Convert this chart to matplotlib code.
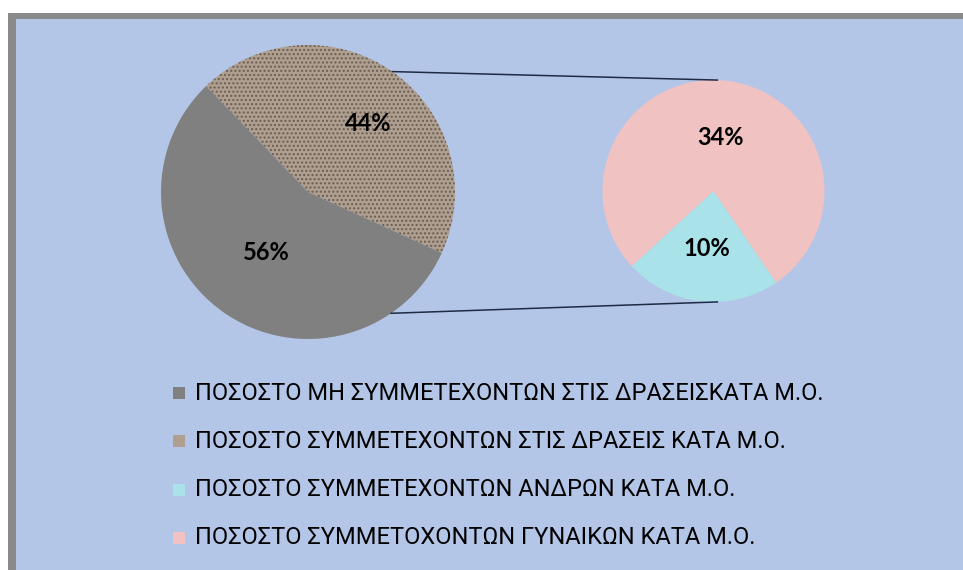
import numpy as np
import matplotlib
matplotlib.use("Agg")
import matplotlib.pyplot as plt
from matplotlib.patches import Rectangle

# ---- data ----
main_labels = ["ΠΟΣΟΣΤΟ ΜΗ ΣΥΜΜΕΤΕΧΟΝΤΩΝ ΣΤΙΣ ΔΡΑΣΕΙΣΚΑΤΑ Μ.Ο.",
               "ΠΟΣΟΣΤΟ ΣΥΜΜΕΤΕΧΟΝΤΩΝ ΣΤΙΣ ΔΡΑΣΕΙΣ ΚΑΤΑ Μ.Ο."]
main_values = [56, 44]
sub_labels = ["ΠΟΣΟΣΤΟ ΣΥΜΜΕΤΕΧΟΝΤΩΝ ΑΝΔΡΩΝ ΚΑΤΑ Μ.Ο.",
              "ΠΟΣΟΣΤΟ ΣΥΜΜΕΤΟΧΟΝΤΩΝ ΓΥΝΑΙΚΩΝ ΚΑΤΑ Μ.Ο."]
sub_values = [10, 34]

# ---- style ----
W, H = 963, 570
bg_blue = "#b4c6e7"
frame_grey = "#8a8a8a"
c_grey = "#808080"
c_tex = "#ae9f90"
c_tex_hatch = "#6b5d50"
c_cyan = "#a9e2e8"
c_pink = "#f1c2c2"

plt.rcParams["hatch.linewidth"] = 1.0

fig = plt.figure(figsize=(W / 100, H / 100), dpi=100)
fig.patch.set_facecolor("white")
ax = fig.add_axes([0, 0, 1, 1])

# frame and background
ax.add_patch(Rectangle((8, 0), W - 8, H - 13, facecolor=frame_grey, edgecolor="none", zorder=0))
ax.add_patch(Rectangle((16, 0), W - 16, H - 19, facecolor=bg_blue, edgecolor="none", zorder=0.5))

# main pie: "other" slice centred at ~55 deg
main_c = (308, H - 192)
main_r = 147
tex_frac = main_values[1] / sum(main_values)
tex_mid = 54.7
start_main = tex_mid - tex_frac * 360 / 2
wedges_main, _ = ax.pie([main_values[1], main_values[0]], colors=[c_tex, c_grey],
                        startangle=start_main, counterclock=True,
                        center=main_c, radius=main_r, frame=True,
                        wedgeprops=dict(linewidth=0))
wedges_main[0].set_hatch("....")
wedges_main[0].set_edgecolor(c_tex_hatch)
wedges_main[0].set_linewidth(0)

# secondary pie
sub_c = (713.5, H - 191)
sub_r = 111
cy_frac = sub_values[0] / sum(sub_values)
cy_mid = 263.5
start_sub = cy_mid - cy_frac * 360 / 2
wedges_sub, _ = ax.pie([sub_values[0], sub_values[1]], colors=[c_cyan, c_pink],
                       startangle=start_sub, counterclock=True,
                       center=sub_c, radius=sub_r, frame=True,
                       wedgeprops=dict(linewidth=0))

ax.set_xlim(0, W)
ax.set_ylim(0, H)
ax.set_aspect("equal")
ax.axis("off")

# connector lines
a1, a2 = np.deg2rad(55), np.deg2rad(-55.6)
b1, b2 = np.deg2rad(88), np.deg2rad(-88)
for a, b in [(a1, b1), (a2, b2)]:
    ax.plot([main_c[0] + main_r * np.cos(a), sub_c[0] + sub_r * np.cos(b)],
            [main_c[1] + main_r * np.sin(a), sub_c[1] + sub_r * np.sin(b)],
            color="#1f2a44", linewidth=1.1, zorder=3)

# percentage labels
lab_font = dict(fontsize=17, fontweight="bold", family=["Lato", "DejaVu Sans"], color="black",
                ha="center", va="center", zorder=5)
total = sum(main_values)


def pct(v):
    return f"{round(100 * v / total)}%"


def place(center, r, mid_deg, frac, text):
    x = center[0] + r * frac * np.cos(np.deg2rad(mid_deg))
    y = center[1] + r * frac * np.sin(np.deg2rad(mid_deg))
    ax.text(x, y, text, **lab_font)


place(main_c, main_r, 48.8, 0.62, pct(main_values[1]))
place(main_c, main_r, 235.5, 0.50, pct(main_values[0]))
place(sub_c, sub_r, cy_mid, 0.525, pct(sub_values[0]))
place(sub_c, sub_r, 83, 0.49, pct(sub_values[1]))

# legend
leg_labels = [main_labels[0], main_labels[1], sub_labels[0], sub_labels[1]]
leg_colors = [c_grey, c_tex, c_cyan, c_pink]
y0 = H - 393
dy = 48.3
for i, (lab, col) in enumerate(zip(leg_labels, leg_colors)):
    y = y0 - i * dy
    ax.add_patch(Rectangle((173, y - 6), 12, 12, facecolor=col, edgecolor="none", zorder=4))
    ax.text(195, y, lab, fontsize=17,
            family=["Roboto", "Noto Sans", "DejaVu Sans"],
            color="black", ha="left", va="center", zorder=5)

fig.savefig("out.png", dpi=100, facecolor=fig.get_facecolor())
